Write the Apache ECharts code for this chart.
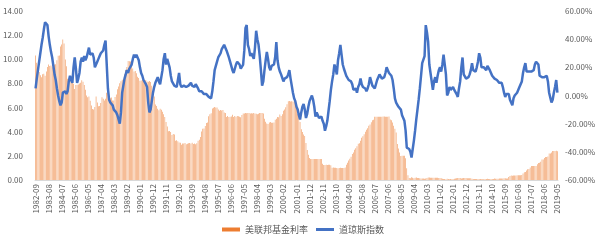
<!DOCTYPE html>
<html><head><meta charset="utf-8">
<script src="https://cdn.jsdelivr.net/npm/echarts@6/dist/echarts.min.js"></script>
<style>html,body{margin:0;padding:0;background:#fff}#c{width:600px;height:241px}</style>
</head><body><div id="c"></div>
<script>
// Monthly categories 1982-09 .. 2019-05
const startYear = 1982, startMonth = 9, monthCount = 441;
const categories = [];
for (let k = 0; k < monthCount; k++) {
  const m = startMonth - 1 + k;
  const y = startYear + Math.floor(m / 12);
  const mm = (m % 12) + 1;
  categories.push(y + '-' + (mm < 10 ? '0' + mm : mm));
}

// 美联邦基金利率 (%), monthly
const fedRate = [
  10.31, 9.71, 9.20, 8.95,
  8.68, 8.51, 8.77, 8.80, 8.63, 8.98, 9.37, 9.56, 9.45, 9.48, 9.34, 9.47,
  9.56, 9.59, 9.91, 10.29, 10.32, 11.06, 11.23, 11.64, 11.30, 9.99, 9.43, 8.38,
  8.35, 8.50, 8.58, 8.27, 7.97, 7.53, 7.88, 7.90, 7.92, 7.99, 8.05, 8.27,
  8.14, 7.86, 7.48, 6.99, 6.85, 6.92, 6.56, 6.17, 5.89, 5.85, 6.04, 6.91,
  6.43, 6.10, 6.13, 6.37, 6.85, 6.73, 6.58, 6.73, 7.22, 7.29, 6.69, 6.77,
  6.83, 6.58, 6.58, 6.87, 7.09, 7.51, 7.75, 8.01, 8.19, 8.30, 8.35, 8.76,
  9.12, 9.36, 9.85, 9.84, 9.81, 9.53, 9.24, 8.99, 9.02, 8.84, 8.55, 8.45,
  8.23, 8.24, 8.28, 8.26, 8.18, 8.29, 8.15, 8.13, 8.20, 8.11, 7.81, 7.31,
  6.91, 6.25, 6.12, 5.91, 5.78, 5.90, 5.82, 5.66, 5.45, 5.21, 4.81, 4.43,
  4.03, 4.06, 3.98, 3.73, 3.82, 3.76, 3.25, 3.30, 3.22, 3.10, 3.09, 2.92,
  3.02, 3.03, 3.07, 2.96, 3.00, 3.04, 3.06, 3.03, 3.09, 2.99, 3.02, 2.96,
  3.05, 3.25, 3.34, 3.56, 4.01, 4.25, 4.26, 4.47, 4.73, 4.76, 5.29, 5.45,
  5.53, 5.92, 5.98, 6.05, 6.01, 6.00, 5.85, 5.74, 5.80, 5.76, 5.80, 5.60,
  5.56, 5.22, 5.31, 5.22, 5.24, 5.27, 5.40, 5.22, 5.30, 5.24, 5.31, 5.29,
  5.25, 5.19, 5.39, 5.51, 5.50, 5.56, 5.52, 5.54, 5.54, 5.50, 5.52, 5.50,
  5.56, 5.51, 5.49, 5.45, 5.49, 5.56, 5.54, 5.55, 5.51, 5.07, 4.83, 4.68,
  4.63, 4.76, 4.81, 4.74, 4.74, 4.76, 4.99, 5.07, 5.22, 5.20, 5.42, 5.30,
  5.45, 5.73, 5.85, 6.02, 6.27, 6.53, 6.54, 6.50, 6.52, 6.51, 6.51, 6.40,
  5.98, 5.49, 5.31, 4.80, 4.21, 3.97, 3.77, 3.65, 3.07, 2.49, 2.09, 1.82,
  1.73, 1.74, 1.73, 1.75, 1.75, 1.75, 1.73, 1.74, 1.75, 1.75, 1.34, 1.24,
  1.24, 1.26, 1.25, 1.26, 1.26, 1.22, 1.01, 1.03, 1.01, 1.01, 1.00, 0.98,
  1.00, 1.01, 1.00, 1.00, 1.00, 1.03, 1.26, 1.43, 1.61, 1.76, 1.93, 2.16,
  2.28, 2.50, 2.63, 2.79, 3.00, 3.04, 3.26, 3.50, 3.62, 3.78, 4.00, 4.16,
  4.29, 4.49, 4.59, 4.79, 4.94, 4.99, 5.24, 5.25, 5.25, 5.25, 5.25, 5.24,
  5.25, 5.26, 5.26, 5.25, 5.25, 5.25, 5.26, 5.02, 4.94, 4.76, 4.49, 4.24,
  3.94, 2.98, 2.61, 2.28, 1.98, 2.00, 2.01, 2.00, 1.81, 0.97, 0.39, 0.16,
  0.15, 0.22, 0.18, 0.15, 0.18, 0.21, 0.16, 0.16, 0.15, 0.12, 0.12, 0.12,
  0.11, 0.13, 0.16, 0.20, 0.20, 0.18, 0.18, 0.19, 0.19, 0.19, 0.19, 0.18,
  0.17, 0.16, 0.14, 0.10, 0.09, 0.09, 0.07, 0.10, 0.08, 0.07, 0.08, 0.07,
  0.08, 0.10, 0.13, 0.14, 0.16, 0.16, 0.16, 0.13, 0.14, 0.16, 0.16, 0.16,
  0.14, 0.15, 0.14, 0.15, 0.11, 0.09, 0.09, 0.08, 0.08, 0.09, 0.08, 0.09,
  0.07, 0.07, 0.08, 0.09, 0.09, 0.10, 0.09, 0.09, 0.09, 0.09, 0.09, 0.12,
  0.11, 0.11, 0.11, 0.12, 0.12, 0.13, 0.13, 0.14, 0.14, 0.12, 0.12, 0.24,
  0.34, 0.38, 0.36, 0.37, 0.37, 0.38, 0.39, 0.40, 0.40, 0.40, 0.41, 0.54,
  0.65, 0.66, 0.79, 0.90, 0.91, 1.04, 1.15, 1.16, 1.15, 1.15, 1.16, 1.30,
  1.41, 1.42, 1.51, 1.69, 1.70, 1.82, 1.91, 1.91, 1.95, 2.19, 2.20, 2.27,
  2.40, 2.40, 2.41, 2.42, 2.39
];

// 道琼斯指数 (同比, %), monthly
const dowYoY = [
  5, 12, 18, 24,
  30, 36, 41, 47, 52, 53, 50, 42, 36, 31, 27, 21,
  15, 11, 5, 0, -4, -7, -5, 2, 1, 3, 1, 3,
  10, 14, 11, 9, 20, 27, 19, 9, 12, 16, 24, 27,
  24, 28, 25, 27, 26, 34, 29, 28, 30, 27, 20, 22,
  24, 26, 28, 30, 29, 32, 36, 39, 38, 5, -3, -5,
  -5, -7, -10, -9, -12, -14, -17, -20, -12, 2, 7, 12,
  15, 18, 16, 19, 20, 22, 26, 29, 27, 29, 27, 25,
  20, 16, 14, 11, 10, 8, 6, -5, -12, -10, -4, 2,
  6, 9, 11, 13, 10, 8, 8, 18, 26, 30, 22, 26,
  25, 20, 14, 10, 9, 7, 8, 6, 5, 16, 8, 6,
  5, 7, 8, 6, 5, 7, 6, 9, 7, 8, 6, 8,
  7, 5, 3, 2, 3, 2, 1, 2, 1, 0, -1, -1,
  -2, 3, 10, 18, 21, 24, 27, 26, 30, 33, 34, 36,
  35, 32, 31, 27, 24, 21, 18, 16, 19, 22, 24, 24,
  22, 19, 18, 22, 32, 48, 50, 36, 33, 28, 30, 30,
  26, 34, 46, 40, 36, 28, 18, 7, 10, 18, 25, 31,
  26, 20, 18, 21, 20, 22, 27, 38, 25, 20, 17, 15,
  14, 10, 12, 11, 13, 15, 18, 12, 7, 2, -2, -4,
  -8, -10, -14, -17, -12, -8, -6, -10, -16, -13, -8, -4,
  -2, 0, -3, -8, -15, -12, -14, -16, -17, -15, -18, -20,
  -25, -22, -18, -11, -4, 4, 10, 15, 22, 19, 15, 25,
  30, 36, 29, 22, 19, 19, 14, 13, 11, 12, 10, 8,
  4, 5, 5, 2, 6, 8, 12, 8, 6, 5, 5, 3,
  5, 8, 13, 10, 7, 6, 5, 8, 11, 13, 15, 14,
  12, 11, 13, 16, 20, 18, 16, 15, 14, 11, 5, -2,
  -5, -6, -8, -7, -10, -14, -15, -18, -25, -37, -38, -38,
  -40, -44, -38, -32, -25, -17, -10, -3, 5, 14, 23, 24,
  28, 50, 45, 38, 22, 16, 15, 4, 10, 13, 9, 14,
  18, 20, 17, 22, 29, 22, 15, 0, 2, 6, 4, 5,
  6, 4, 3, 1, -1, 5, 10, 20, 27, 15, 14, 12,
  13, 13, 15, 18, 23, 18, 19, 17, 20, 24, 30, 27,
  20, 20, 20, 19, 18, 21, 22, 18, 16, 14, 13, 12,
  11, 11, 10, 9, 10, 9, 6, 2, -1, 1, 0, 1,
  -3, -5, -7, -2, 0, 1, 2, 3, 6, 5, 10, 16,
  20, 23, 17, 16, 17, 16, 17, 16, 18, 22, 24, 23,
  22, 14, 13, 13, 14, 13, 14, 14, 10, 2, 2, -5,
  -3, 2, 6, 11, 2
];

const leftTicks = { min: 0, max: 14, interval: 2 };
const rightTicks = { min: -60, max: 60, interval: 20 };

const chart = echarts.init(document.getElementById('c'), null, { renderer: 'canvas' });
const labelColor = '#595959';
chart.setOption({
  animation: false,
  backgroundColor: '#fff',
  textStyle: { fontFamily: '"Noto Sans CJK SC", "Liberation Sans", sans-serif' },
  grid: { left: 32, right: 42, top: 11, bottom: 61 },
  legend: {
    bottom: 7, left: 222, itemGap: 8, itemWidth: 18, itemHeight: 4, padding: 0,
    textStyle: { fontSize: 9, color: labelColor },
    data: [
      { name: '美联邦基金利率', icon: 'rect' },
      { name: '道琼斯指数', icon: 'path://M0,0 L18,0 L18,3 L0,3 Z' }
    ]
  },
  xAxis: {
    type: 'category', data: categories, boundaryGap: true,
    axisLine: { lineStyle: { color: '#d9d9d9', width: 1 } },
    axisTick: { show: false },
    axisLabel: { interval: 10, rotate: 90, fontSize: 8, color: labelColor, margin: 4 }
  },
  yAxis: [
    {
      type: 'value', min: leftTicks.min, max: leftTicks.max, interval: leftTicks.interval,
      splitLine: { show: false }, axisLine: { show: false }, axisTick: { show: false },
      axisLabel: { fontSize: 8, color: labelColor, margin: 12, formatter: v => v.toFixed(2) }
    },
    {
      type: 'value', min: rightTicks.min, max: rightTicks.max, interval: rightTicks.interval,
      splitLine: { show: false }, axisLine: { show: false }, axisTick: { show: false },
      axisLabel: { fontSize: 8, color: labelColor, margin: 7, formatter: v => v.toFixed(2) + '%' }
    }
  ],
  series: [
    {
      name: '美联邦基金利率', type: 'bar', yAxisIndex: 0, data: fedRate,
      barWidth: 0.5, barMinWidth: 0.1, itemStyle: { color: '#ED7D31' }
    },
    {
      name: '道琼斯指数', type: 'line', yAxisIndex: 1, data: dowYoY,
      showSymbol: false, symbol: 'none', smooth: false,
      lineStyle: { color: '#4472C4', width: 2.5 }, itemStyle: { color: '#4472C4' }
    }
  ]
});
</script></body></html>
